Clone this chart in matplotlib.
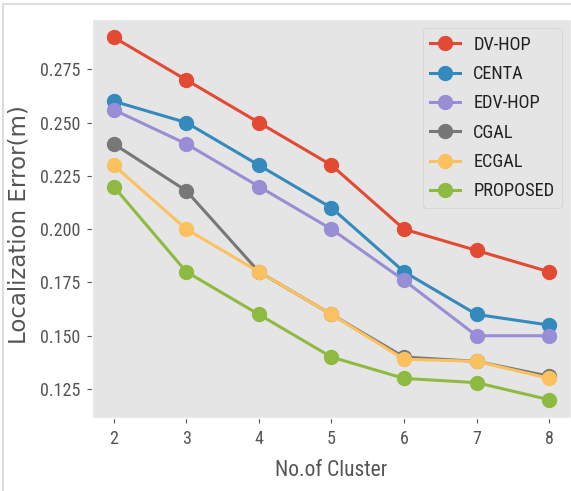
import matplotlib
matplotlib.use("Agg")
import matplotlib.pyplot as plt
from matplotlib.lines import Line2D

plt.style.use('ggplot')
plt.rcParams['font.family'] = ['Roboto Condensed', 'DejaVu Sans']
plt.rcParams['font.stretch'] = 'condensed'

clusters = [2, 3, 4, 5, 6, 7, 8]
dv_hop = [0.290, 0.270, 0.250, 0.230, 0.200, 0.190, 0.180]
centa = [0.260, 0.250, 0.230, 0.210, 0.180, 0.160, 0.155]
edv_hop = [0.256, 0.240, 0.220, 0.200, 0.176, 0.150, 0.150]
cgal = [0.240, 0.218, 0.180, 0.160, 0.140, 0.138, 0.131]
ecgal = [0.230, 0.200, 0.180, 0.160, 0.139, 0.138, 0.130]
proposed = [0.220, 0.180, 0.160, 0.140, 0.130, 0.128, 0.120]

series = [
    ('DV-HOP', dv_hop, '#E24A33'),
    ('CENTA', centa, '#348ABD'),
    ('EDV-HOP', edv_hop, '#988ED5'),
    ('CGAL', cgal, '#777777'),
    ('ECGAL', ecgal, '#FBC15E'),
    ('PROPOSED', proposed, '#8EBA42'),
]

fig = plt.figure(figsize=(5.71, 4.91), dpi=100)
ax = fig.add_axes([0.161, 0.149, 0.839, 0.812])

for name, vals, col in series:
    ax.plot(clusters, vals, marker='o', markersize=10, linewidth=2.2,
            color=col, label=name)

ax.grid(False)
ax.set_xlabel('No.of Cluster', fontsize=15.5, color='#555555', labelpad=9)
ax.set_ylabel('Localization Error(m)', fontsize=16.5, color='#555555',
              family='DejaVu Sans', stretch='normal')
ax.yaxis.set_label_coords(-0.128, 0.485)
ax.tick_params(labelsize=13, colors='#555555', pad=5)
ax.set_yticks([0.125, 0.150, 0.175, 0.200, 0.225, 0.250, 0.275])
ax.legend(loc='upper right', fontsize=13.2, handlelength=1.6,
          labelspacing=0.62, handletextpad=0.75, labelcolor='#222222')

# thin border around the figure
fig.add_artist(Line2D([0.005, 1.0], [0.991, 0.991], transform=fig.transFigure,
                      color='#dddddd', linewidth=1.5))
fig.add_artist(Line2D([0.006, 0.006], [0.0, 0.991], transform=fig.transFigure,
                      color='#dddddd', linewidth=1.5))

fig.savefig('out.png', dpi=100)
